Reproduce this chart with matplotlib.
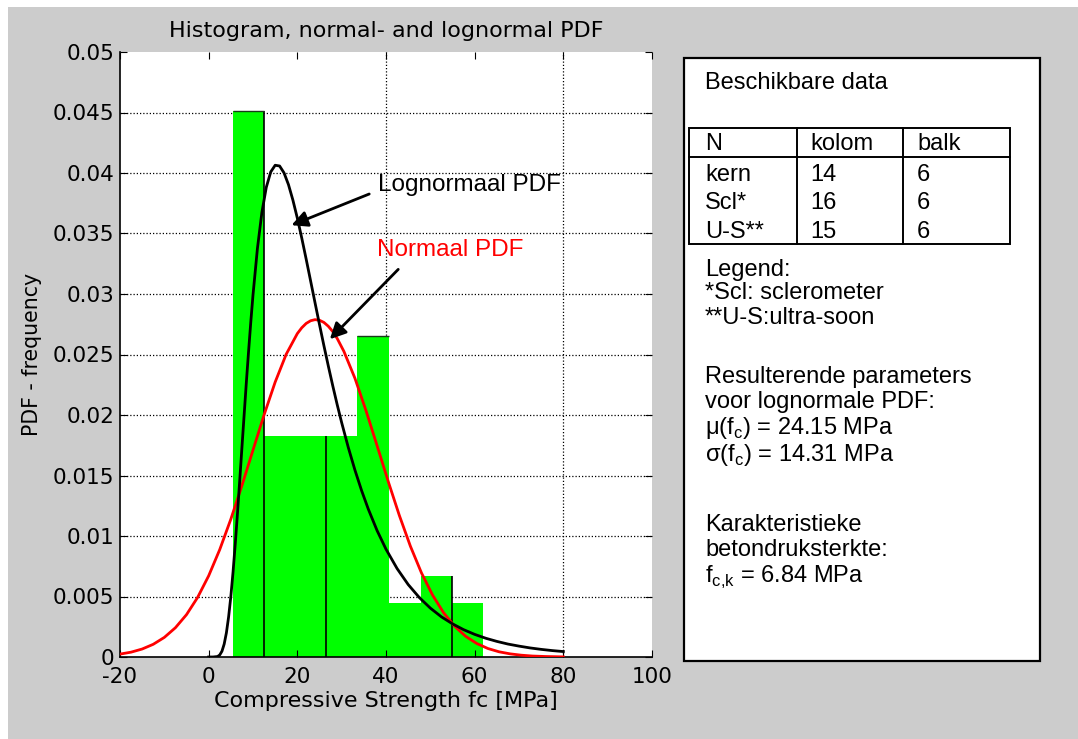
import numpy as np
import matplotlib
matplotlib.use("Agg")
import matplotlib.pyplot as plt
from matplotlib.patches import Rectangle

plt.rcParams['font.family'] = 'DejaVu Sans'
plt.rcParams['axes.unicode_minus'] = False
plt.rcParams['mathtext.fontset'] = 'custom'
plt.rcParams['mathtext.rm'] = 'Liberation Sans'

#Histogram bins (MPa) and heights
bin_edges = [5.5, 12.5, 19.4, 26.5, 33.4, 40.6, 48.0, 54.9, 61.9]
bin_heights = [0.0451, 0.0183, 0.0183, 0.0183, 0.0265, 0.0045, 0.0067, 0.0045]
bin_lines = [12.5, 26.5, 54.9]
bin_line_tops = [0.0451, 0.0183, 0.0067]

#Normal PDF
normal_x = [-20, -17.5, -15, -12.5, -10, -7.5, -5, -2.5, 0, 2.5, 5, 7.5, 10, 12.5, 15,
            17.5, 20, 21, 22, 23, 24, 25, 26, 27, 28, 29, 30.5, 33, 35.5, 38, 40.5, 43,
            45.5, 48, 50.5, 53, 55.5, 58, 60.5, 63, 65.5, 68, 70.5, 73, 76, 80]
normal_y = [0.00024, 0.00040, 0.00066, 0.00105, 0.00162, 0.00242, 0.00350, 0.00492,
            0.00671, 0.00888, 0.01139, 0.01417, 0.01710, 0.02001, 0.02272, 0.02503,
            0.02673, 0.02721, 0.02757, 0.02779, 0.02788, 0.02783, 0.02765, 0.02733,
            0.02689, 0.02632, 0.02526, 0.02303, 0.02035, 0.01745, 0.01451, 0.01171,
            0.00916, 0.00695, 0.00512, 0.00365, 0.00253, 0.00170, 0.00111, 0.00070,
            0.00043, 0.00026, 0.00015, 0.00008, 0.00004, 0.00001]

#Lognormal PDF
lognormal_x = [0, 1, 2, 2.5, 3, 3.5, 4, 4.5, 5, 5.5, 6, 6.5, 7, 7.5, 8, 8.5, 9, 9.5, 10,
               11, 12, 13, 14, 15, 16, 17, 18, 19, 20, 21, 22, 23, 24, 25, 26, 27, 28,
               29, 30, 31.5, 33, 34.5, 36, 38, 40, 42.5, 45, 47.5, 50, 52.5, 55, 57.5,
               60, 62.5, 65, 67.5, 70, 72.5, 75, 77.5, 80]
lognormal_y = [0.0, 0.0, 0.00004, 0.00017, 0.00048, 0.00107, 0.00200, 0.00332, 0.00500,
               0.00703, 0.00936, 0.01188, 0.01456, 0.01729, 0.02000, 0.02270, 0.02525,
               0.02768, 0.02992, 0.03377, 0.03673, 0.03882, 0.04009, 0.04064, 0.04058,
               0.04001, 0.03904, 0.03776, 0.03627, 0.03462, 0.03287, 0.03107, 0.02926,
               0.02747, 0.02572, 0.02403, 0.02240, 0.02084, 0.01937, 0.01731, 0.01544,
               0.01375, 0.01223, 0.01044, 0.00891, 0.00731, 0.00599, 0.00492, 0.00404,
               0.00332, 0.00274, 0.00226, 0.00187, 0.00155, 0.00129, 0.00107, 0.00090,
               0.00075, 0.00063, 0.00053, 0.00045]

x_ticks = [-20, 0, 20, 40, 60, 80, 100]
y_ticks = [0, 0.005, 0.01, 0.015, 0.02, 0.025, 0.03, 0.035, 0.04, 0.045, 0.05]
y_tick_labels = ['0', '0.005', '0.01', '0.015', '0.02', '0.025', '0.03', '0.035', '0.04', '0.045', '0.05']

#Table in the side box
table_header = ['N', 'kolom', 'balk']
table_rows = ['kern', 'Scl*', 'U-S**']
table_kolom = [14, 16, 15]
table_balk = [6, 6, 6]

W, H = 1078, 739
fig = plt.figure(figsize=(W / 100, H / 100), dpi=100, facecolor='#cccccc')
ax = fig.add_axes([120 / W, 1 - 657 / H, 532 / W, 605 / H])

#Grid
for yv in y_ticks[1:-1]:
    ax.axhline(yv, color='k', lw=0.9, ls=(0, (1, 1.6)), zorder=0.5)
for xv in [40, 80]:
    ax.axvline(xv, color='k', lw=0.9, ls=(0, (1, 1.6)), zorder=0.5)

#Histogram
lefts = bin_edges[:-1]
widths = np.diff(bin_edges)
ax.bar(lefts, bin_heights, width=widths, align='edge', color='#00ff00', edgecolor='none', zorder=1)
ax.vlines(bin_lines, 0, bin_line_tops, color='k', lw=1.2, zorder=1.5)
ax.hlines([bin_heights[0], bin_heights[4]], [bin_edges[0], bin_edges[4]],
          [bin_edges[1], bin_edges[5]], color='#1a3a1a', lw=1.0, zorder=1.5)

#PDF curves
ax.plot(normal_x, normal_y, color='#ff0000', lw=2.0, zorder=3)
ax.plot(lognormal_x, lognormal_y, color='k', lw=2.0, zorder=3)

#Annotations
ax.text(38.2, 0.0390, 'Lognormaal PDF', color='k', fontsize=17.5, family='Liberation Sans', va='center')
ax.annotate('', xy=(18.1, 0.0356), xytext=(36.8, 0.03835),
            arrowprops=dict(arrowstyle='-|>', color='k', lw=2, mutation_scale=24), zorder=4)
ax.text(37.9, 0.0336, 'Normaal PDF', color='#ff0000', fontsize=17.5, family='Liberation Sans', va='center')
ax.annotate('', xy=(26.9, 0.0261), xytext=(43.2, 0.0322),
            arrowprops=dict(arrowstyle='-|>', color='k', lw=2, mutation_scale=24), zorder=4)

ax.set_xlim(-20, 100)
ax.set_ylim(0, 0.05)
ax.set_xticks(x_ticks)
ax.set_yticks(y_ticks)
ax.set_yticklabels(y_tick_labels)
ax.tick_params(direction='in', top=True, right=True, length=5, width=0.8, labelsize=15.5, pad=4)
ax.tick_params(axis='x', pad=7)
ax.spines['top'].set_visible(False)
ax.spines['right'].set_visible(False)
ax.spines['left'].set_linewidth(1.2)
ax.spines['bottom'].set_linewidth(1.2)
ax.set_title('Histogram, normal- and lognormal PDF', fontsize=16, pad=11)
ax.set_xlabel('Compressive Strength fc [MPa]', fontsize=16, labelpad=3)
ax.set_ylabel('PDF - frequency', fontsize=14.8, labelpad=8)

#Overlay in pixel coordinates for margins and side box
ov = fig.add_axes([0, 0, 1, 1])
ov.set_xlim(0, W)
ov.set_ylim(H, 0)
ov.axis('off')
ov.add_patch(Rectangle((0, 0), W, 7, color='white', lw=0))
ov.add_patch(Rectangle((0, 0), 8, H, color='white', lw=0))
ov.add_patch(Rectangle((684, 58), 356, 603, facecolor='white', edgecolor='k', lw=1.6))

tfont = dict(family='Liberation Sans', fontsize=17, va='center', ha='left')
ov.text(705, 83, 'Beschikbare data', **tfont)

#Table
ov.add_patch(Rectangle((689, 128), 321, 116, facecolor='none', edgecolor='k', lw=1.4))
ov.plot([689, 1010], [157, 157], color='k', lw=1.4)
ov.plot([797, 797], [128, 244], color='k', lw=1.4)
ov.plot([903, 903], [128, 244], color='k', lw=1.4)
col_x = [705, 810, 917]
for cx, h in zip(col_x, table_header):
    ov.text(cx, 144, h, **tfont)
row_y = [175, 203, 232]
for ry, name, k, b in zip(row_y, table_rows, table_kolom, table_balk):
    ov.text(col_x[0], ry, name, **tfont)
    ov.text(col_x[1], ry, str(k), **tfont)
    ov.text(col_x[2], ry, str(b), **tfont)

ov.text(705, 270, 'Legend:', **tfont)
ov.text(705, 293, '*Scl: sclerometer', **tfont)
ov.text(705, 318, '**U-S:ultra-soon', **tfont)

ov.text(705, 377, 'Resulterende parameters', **tfont)
ov.text(705, 402, 'voor lognormale PDF:', **tfont)
ov.text(705, 428, r'μ(f$_\mathregular{c}$) = 24.15 MPa', **tfont)
ov.text(705, 455, r'σ(f$_\mathregular{c}$) = 14.31 MPa', **tfont)
ov.text(705, 525, 'Karakteristieke', **tfont)
ov.text(705, 550, 'betondruksterkte:', **tfont)
ov.text(705, 577, r'f$_\mathregular{c{,}k}$ = 6.84 MPa', **tfont)

fig.savefig('out.png', dpi=100, facecolor=fig.get_facecolor())
